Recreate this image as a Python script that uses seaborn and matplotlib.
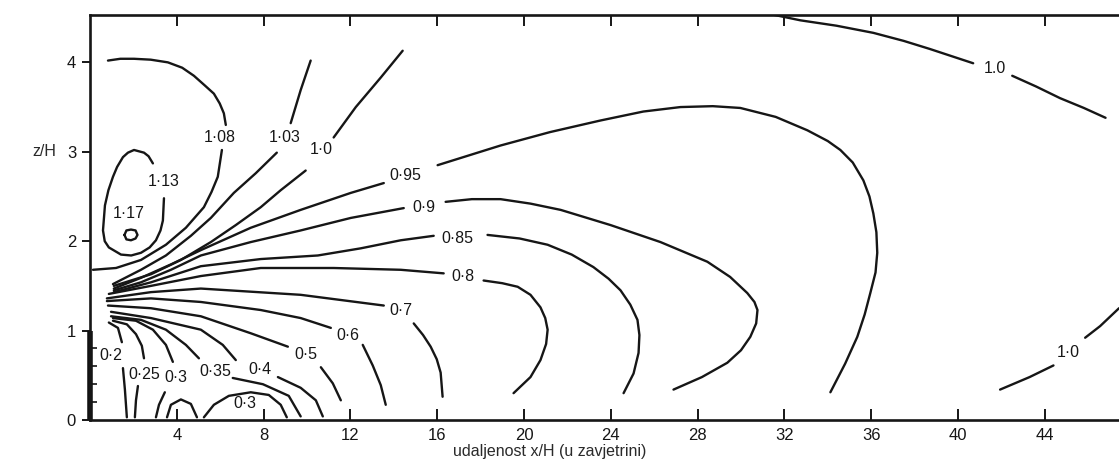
import pandas as pd
import seaborn as sns
import matplotlib.pyplot as plt
from matplotlib.ticker import FixedLocator

# contour segments, (x/H, z/H); label gaps split a line into pieces
c117 = [(1.59, 2.07), (1.68, 2.02), (1.89, 2.01), (2.10, 2.03), (2.19, 2.07),
        (2.10, 2.12), (1.89, 2.13), (1.68, 2.12), (1.59, 2.07)]

c113 = [(2.90, 2.87), (2.70, 2.95), (2.49, 2.99), (2.03, 3.02), (1.75, 2.99), (1.52, 2.94),
        (1.25, 2.83), (1.06, 2.72), (0.85, 2.57), (0.69, 2.40), (0.60, 2.12), (0.68, 2.00),
        (0.87, 1.93), (1.43, 1.85), (1.90, 1.84), (2.35, 1.87), (2.75, 1.93), (3.04, 2.01),
        (3.25, 2.12), (3.36, 2.23), (3.41, 2.48)]

c108_a = [(0.83, 4.02), (1.40, 4.04), (2.03, 4.04), (2.80, 4.03), (3.59, 4.00), (4.25, 3.94),
          (4.79, 3.85), (5.30, 3.74), (5.71, 3.65), (5.98, 3.54), (6.17, 3.43), (6.26, 3.30)]
c108_b = [(6.08, 3.02), (5.89, 2.72), (5.60, 2.55), (5.25, 2.38), (4.42, 2.15), (3.50, 1.96),
          (2.35, 1.79), (1.20, 1.70), (0.14, 1.68)]

c103_a = [(10.17, 4.02), (9.71, 3.69), (9.25, 3.32)]
c103_b = [(8.61, 2.99), (7.64, 2.76), (6.63, 2.54), (5.57, 2.26), (4.65, 2.06), (3.50, 1.84),
          (2.35, 1.68), (1.06, 1.52)]

c100_a = [(14.41, 4.13), (13.40, 3.83), (12.25, 3.50), (11.23, 3.16)]
c100_b = [(9.94, 2.79), (8.79, 2.57), (7.87, 2.38), (6.72, 2.18), (5.57, 1.99), (4.19, 1.79),
          (2.81, 1.63), (1.10, 1.50)]
c100_c = [(31.35, 4.54), (32.74, 4.47), (34.40, 4.41), (36.10, 4.33), (37.50, 4.24),
          (38.70, 4.15), (40.70, 3.99)]
c100_d = [(42.50, 3.85), (43.60, 3.73), (44.70, 3.60), (45.80, 3.49), (46.80, 3.38)]
c100_e = [(41.94, 0.34), (43.30, 0.48), (44.40, 0.61)]
c100_f = [(45.86, 0.92), (46.55, 1.05), (47.42, 1.25)]

c095_a = [(1.10, 1.47), (2.35, 1.59), (3.73, 1.74), (5.11, 1.90), (7.41, 2.15), (9.71, 2.35),
          (12.02, 2.54), (13.54, 2.65)]
c095_b = [(16.02, 2.85), (18.92, 3.07), (21.20, 3.22), (23.53, 3.35), (25.50, 3.45),
          (27.21, 3.50), (28.70, 3.51), (29.97, 3.49), (31.60, 3.39), (33.06, 3.24),
          (34.00, 3.12), (34.58, 3.02), (35.15, 2.88), (35.64, 2.68), (35.92, 2.50),
          (36.10, 2.31), (36.24, 2.10), (36.28, 1.87), (36.20, 1.65), (35.96, 1.42),
          (35.70, 1.18), (35.36, 0.93), (34.80, 0.63), (34.12, 0.31)]

c090_a = [(1.10, 1.45), (2.35, 1.54), (3.73, 1.68), (5.11, 1.84), (7.41, 1.99), (9.71, 2.12),
          (12.02, 2.26), (14.46, 2.37)]
c090_b = [(16.39, 2.44), (17.60, 2.47), (18.92, 2.47), (20.30, 2.42), (21.69, 2.35),
          (23.99, 2.18), (26.29, 1.99), (28.45, 1.77), (29.50, 1.60), (30.29, 1.42),
          (30.62, 1.32), (30.76, 1.23), (30.70, 1.08), (30.43, 0.93), (30.00, 0.78),
          (29.37, 0.64), (28.20, 0.48), (26.89, 0.34)]

c085_a = [(1.10, 1.43), (2.81, 1.54), (5.11, 1.72), (7.87, 1.80), (10.50, 1.84), (12.48, 1.92),
          (14.32, 2.01), (15.84, 2.06)]
c085_b = [(18.32, 2.07), (19.80, 2.03), (21.09, 1.96), (22.20, 1.85), (23.20, 1.71),
          (23.90, 1.58), (24.45, 1.45), (24.90, 1.29), (25.23, 1.12), (25.32, 0.95),
          (25.28, 0.75), (25.05, 0.52), (24.59, 0.30)]

c080_a = [(0.87, 1.41), (2.81, 1.50), (5.11, 1.61), (7.87, 1.70), (11.23, 1.70), (14.32, 1.68),
          (16.30, 1.64)]
c080_b = [(18.14, 1.56), (19.00, 1.53), (19.71, 1.49), (20.30, 1.40), (20.76, 1.26),
          (20.98, 1.14), (21.09, 1.01), (21.02, 0.85), (20.76, 0.67), (20.30, 0.48),
          (19.52, 0.30)]

c070_a = [(0.78, 1.36), (2.81, 1.43), (5.11, 1.47), (9.71, 1.40), (13.54, 1.28)]
c070_b = [(14.92, 1.08), (15.35, 0.95), (15.70, 0.82), (15.98, 0.68), (16.16, 0.53),
          (16.25, 0.26)]

c060_a = [(0.78, 1.33), (2.81, 1.36), (5.11, 1.32), (7.87, 1.23), (9.71, 1.14), (11.10, 1.03)]
c060_b = [(12.57, 0.84), (13.03, 0.61), (13.40, 0.39), (13.63, 0.17)]

c050_a = [(0.83, 1.28), (2.81, 1.25), (5.11, 1.16), (7.41, 0.97), (9.12, 0.82)]
c050_b = [(10.64, 0.59), (11.19, 0.41), (11.56, 0.22)]

c040_a = [(0.97, 1.21), (2.81, 1.14), (5.11, 1.01), (6.12, 0.84), (6.72, 0.67)]
c040_b = [(8.66, 0.48), (9.71, 0.36), (10.41, 0.22), (10.73, 0.04)]

c035_a = [(0.97, 1.16), (2.35, 1.12), (3.50, 1.01), (4.42, 0.84), (5.02, 0.69)]
c035_b = [(6.58, 0.47), (7.97, 0.40), (9.16, 0.27), (9.71, 0.04)]

c030_a = [(1.06, 1.14), (2.12, 1.11), (2.90, 1.01), (3.50, 0.84), (3.82, 0.65)]
c030_b = [(3.45, 0.31), (3.18, 0.17), (3.04, 0.03)]
c030_c = [(3.55, 0.03), (3.73, 0.17), (4.19, 0.23), (4.65, 0.18), (4.93, 0.03)]
c030_d = [(5.25, 0.03), (5.71, 0.17), (6.40, 0.27), (7.41, 0.31), (8.24, 0.28), (8.79, 0.17),
          (9.07, 0.03)]

c025_a = [(1.06, 1.11), (1.70, 1.07), (2.12, 0.96), (2.39, 0.83), (2.49, 0.69)]
c025_b = [(2.21, 0.38), (2.12, 0.22), (2.07, 0.03)]

c020_a = [(0.87, 1.09), (1.29, 1.03), (1.47, 0.87)]
c020_b = [(1.52, 0.58), (1.61, 0.34), (1.70, 0.03)]

segments = [c117, c113, c108_a, c108_b, c103_a, c103_b, c100_a, c100_b, c100_c, c100_d,
            c100_e, c100_f, c095_a, c095_b, c090_a, c090_b, c085_a, c085_b, c080_a, c080_b,
            c070_a, c070_b, c060_a, c060_b, c050_a, c050_b, c040_a, c040_b, c035_a, c035_b,
            c030_a, c030_b, c030_c, c030_d, c025_a, c025_b, c020_a, c020_b]

label_text = ["1·17", "1·13", "1·08", "1·03", "1·0", "0·95", "0·9", "0·85", "0·8", "0·7",
              "0·6", "0·5", "0·4", "0·35", "0·3", "0·25", "0·2", "0·3", "1.0", "1·0"]
label_x = [1.80, 3.41, 5.99, 8.98, 10.68, 14.55, 15.38, 16.94, 17.17, 14.32,
           11.88, 9.94, 7.83, 5.76, 3.96, 2.49, 0.97, 7.14, 41.71, 45.07]
label_z = [2.31, 2.67, 3.16, 3.16, 3.02, 2.73, 2.38, 2.03, 1.61, 1.22,
           0.95, 0.73, 0.56, 0.54, 0.48, 0.51, 0.72, 0.18, 3.93, 0.76]

x_ticks = [4, 8, 12, 16, 20, 24, 28, 32, 36, 40, 44]
z_ticks = [0, 1, 2, 3, 4]
wall_z = [0.0, 0.2, 0.4, 0.6, 0.8, 1.0]

rows = []
for i, seg in enumerate(segments):
    for x, z in seg:
        rows.append((i, x, z))
df = pd.DataFrame(rows, columns=["seg", "x", "z"])

sns.set_theme(style="ticks")
plt.rcParams["font.family"] = ["Liberation Sans", "DejaVu Sans"]

fig = plt.figure(figsize=(11.19, 4.65), dpi=100)
ax = fig.add_axes([0.0804, 0.0968, 0.9196, 0.871])

sns.lineplot(data=df, x="x", y="z", units="seg", estimator=None, sort=False,
             color="#161616", linewidth=1.7, ax=ax, legend=False)

# building wall (z/H 0..1)
ax.plot([0] * len(wall_z), wall_z, color="#111111", linewidth=4, clip_on=False,
        solid_capstyle="butt")

for t, x, z in zip(label_text, label_x, label_z):
    ax.text(x, z, t, ha="center", va="center", fontsize=11.5, color="#161616")

ax.set_xlim(0, 47.42)
ax.set_ylim(0, 4.53)
ax.set_xticks(x_ticks)
ax.set_xticklabels([str(v) for v in x_ticks])
ax.set_yticks(z_ticks)
ax.set_yticklabels([str(v) for v in z_ticks])
ax.yaxis.set_minor_locator(FixedLocator(wall_z[1:-1]))

ax.tick_params(axis="x", which="major", direction="in", length=8, width=1.4,
               top=True, labelsize=12, pad=6, colors="#161616")
ax.tick_params(axis="y", which="major", direction="out", length=6, width=1.4,
               labelsize=12, pad=4, colors="#161616")
ax.tick_params(axis="y", which="minor", direction="in", length=5, width=1.3)

sns.despine(ax=ax, top=False, right=True)
for side in ["left", "bottom", "top"]:
    ax.spines[side].set_linewidth(1.9)
    ax.spines[side].set_color("#161616")

ax.set_xlabel("udaljenost x/H (u zavjetrini)", fontsize=11.5, color="#2a2a2a", va="center")
ax.xaxis.set_label_coords(0.447, -0.079)
ax.set_ylabel("z/H", rotation=0, fontsize=11.5, color="#2a2a2a", va="center")
ax.yaxis.set_label_coords(-0.044, 3 / 4.53)

fig.savefig("out.png", dpi=100)
